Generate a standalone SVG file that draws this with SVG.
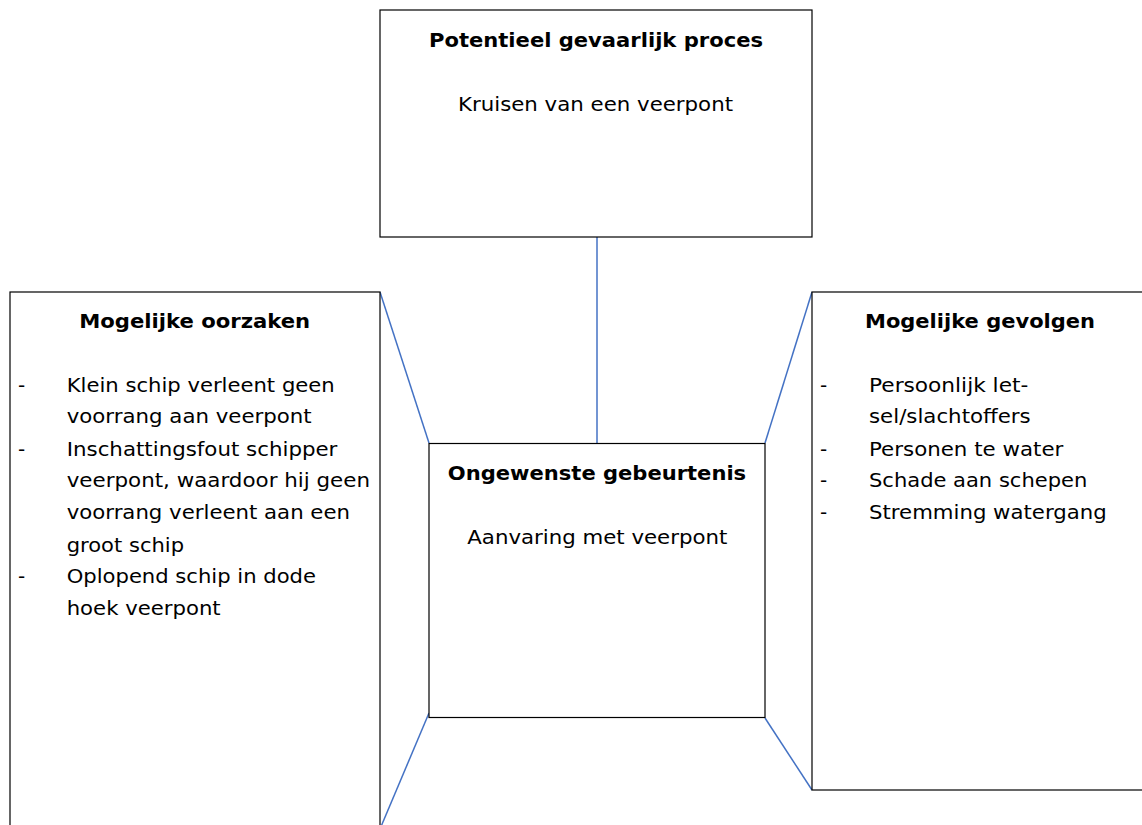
<svg xmlns="http://www.w3.org/2000/svg" width="1142" height="825" viewBox="0 0 1142 825">
<style>
.box{fill:#fff;stroke:#000;stroke-width:1.2}
.conn{fill:none;stroke:#4472C4;stroke-width:1.5}
text{font-family:Verdana,"DejaVu Sans",sans-serif;font-size:20px;fill:#000}
.b{font-weight:bold}
.m{text-anchor:middle}
</style>
<rect width="1142" height="825" fill="#fff"/>
<g id="connectors">
<line class="conn" x1="597" y1="237" x2="597" y2="443"/>
<line class="conn" x1="380" y1="292" x2="429" y2="443"/>
<line class="conn" x1="765" y1="443" x2="812" y2="292"/>
<line class="conn" x1="429" y1="713" x2="380" y2="829"/>
<line class="conn" x1="765" y1="718" x2="812" y2="790"/>
</g>
<g id="proces">
<rect class="box" x="380" y="10" width="432" height="227"/>
<text class="b m" x="596" y="46.5" textLength="334" lengthAdjust="spacingAndGlyphs">Potentieel gevaarlijk proces</text>
<text class="m" x="595.5" y="111" textLength="275" lengthAdjust="spacingAndGlyphs">Kruisen van een veerpont</text>
</g>
<g id="oorzaken">
<rect class="box" x="10" y="292" width="370" height="537"/>
<text class="b m" x="194.7" y="328.3" textLength="231" lengthAdjust="spacingAndGlyphs">Mogelijke oorzaken</text>
<text x="18" y="391.7">-</text>
<text x="66.7" y="391.7" textLength="268" lengthAdjust="spacingAndGlyphs">Klein schip verleent geen</text>
<text x="66.7" y="423.3" textLength="245" lengthAdjust="spacingAndGlyphs">voorrang aan veerpont</text>
<text x="18" y="455.7">-</text>
<text x="66.7" y="455.7" textLength="270.7" lengthAdjust="spacingAndGlyphs">Inschattingsfout schipper</text>
<text x="66.7" y="487.3" textLength="303.3" lengthAdjust="spacingAndGlyphs">veerpont, waardoor hij geen</text>
<text x="66.7" y="519.3" textLength="283.3" lengthAdjust="spacingAndGlyphs">voorrang verleent aan een</text>
<text x="66.7" y="551.7" textLength="117.3" lengthAdjust="spacingAndGlyphs">groot schip</text>
<text x="18" y="583.3">-</text>
<text x="66.7" y="583.3" textLength="249.3" lengthAdjust="spacingAndGlyphs">Oplopend schip in dode</text>
<text x="66.7" y="615" textLength="154" lengthAdjust="spacingAndGlyphs">hoek veerpont</text>
</g>
<g id="gevolgen">
<rect class="box" x="812" y="292" width="340" height="498"/>
<text class="b m" x="980" y="328.3" textLength="230" lengthAdjust="spacingAndGlyphs">Mogelijke gevolgen</text>
<text x="820" y="391.7">-</text>
<text x="869" y="391.7" textLength="159.3" lengthAdjust="spacingAndGlyphs">Persoonlijk let-</text>
<text x="869" y="423.3" textLength="161.7" lengthAdjust="spacingAndGlyphs">sel/slachtoffers</text>
<text x="820" y="455.7">-</text>
<text x="869" y="455.7" textLength="194.3" lengthAdjust="spacingAndGlyphs">Personen te water</text>
<text x="820" y="487.3">-</text>
<text x="869" y="487.3" textLength="218.3" lengthAdjust="spacingAndGlyphs">Schade aan schepen</text>
<text x="820" y="519.3">-</text>
<text x="869" y="519.3" textLength="237.7" lengthAdjust="spacingAndGlyphs">Stremming watergang</text>
</g>
<g id="gebeurtenis">
<rect class="box" x="429" y="443.5" width="336" height="274"/>
<text class="b m" x="597" y="480" textLength="298.3" lengthAdjust="spacingAndGlyphs">Ongewenste gebeurtenis</text>
<text class="m" x="597.3" y="544.3" textLength="260" lengthAdjust="spacingAndGlyphs">Aanvaring met veerpont</text>
</g>
</svg>
